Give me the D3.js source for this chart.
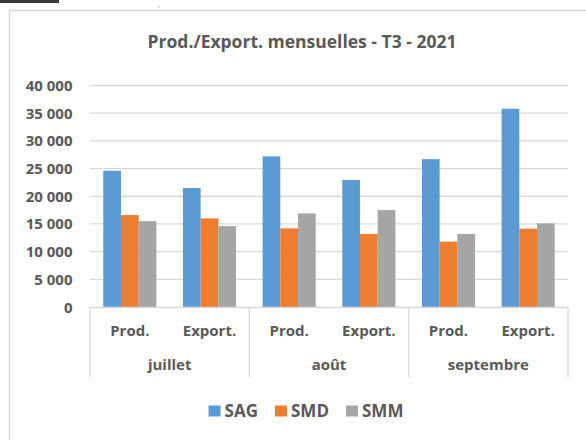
<!DOCTYPE html>
<html>
<head>
<meta charset="utf-8">
<script src="https://d3js.org/d3.v7.min.js"></script>
<style>
  body { margin: 0; background: #fff; }
  text { font-family: "Open Sans", sans-serif; font-weight: 700; fill: #595959; }
</style>
</head>
<body>
<div id="my_dataviz"></div>
<script>
// data
var months = ["juillet", "août", "septembre"];
var kinds = ["Prod.", "Export."];
var seriesNames = ["SAG", "SMD", "SMM"];
var sag = [24600, 21500, 27200, 22950, 26700, 35800];
var smd = [16600, 16000, 14200, 13200, 11800, 14150];
var smm = [15500, 14600, 16900, 17500, 13200, 15100];
var yTicks = [0, 5000, 10000, 15000, 20000, 25000, 30000, 35000, 40000];

var colors = ["#5B9BD5", "#ED7D31", "#A5A5A5"];
var gridColor = "#D9D9D9";

var width = 586, height = 440;
var plot = {left: 90, right: 568, top: 85.5, bottom: 307};

var svg = d3.select("#my_dataviz")
  .append("svg")
    .attr("width", width)
    .attr("height", height);

// bits of the screenshot crop at the top left
svg.append("rect")
    .attr("x", 0).attr("y", 0)
    .attr("width", 59).attr("height", 3)
    .attr("fill", "#3a3a3a");
svg.append("text")
    .attr("x", 158).attr("y", 7)
    .style("font-size", "7px")
    .style("font-weight", 400)
    .style("fill", "#888")
    .text(",");

// chart frame
svg.append("rect")
    .attr("x", 9.5).attr("y", 10.5)
    .attr("width", 600).attr("height", 460)
    .attr("fill", "#fff")
    .attr("stroke", gridColor)
    .attr("stroke-width", 1.5);

// title
svg.append("text")
    .attr("x", 302)
    .attr("y", 47.5)
    .attr("text-anchor", "middle")
    .style("font-size", "17.5px")
    .text("Prod./Export. mensuelles - T3 - 2021");

// rows: one per month/kind
var rows = [];
months.forEach(function(m, i) {
  kinds.forEach(function(k, j) {
    var idx = i * kinds.length + j;
    rows.push({month: m, kind: k, values: [sag[idx], smd[idx], smm[idx]]});
  });
});

// Scales
var x0 = d3.scaleBand()
    .domain(months)
    .range([plot.left, plot.right]);
var x1 = d3.scaleBand()
    .domain(kinds)
    .range([0, x0.bandwidth()]);
var x2 = d3.scaleBand()
    .domain(seriesNames)
    .range([0, x1.bandwidth()])
    .paddingInner(0)
    .paddingOuter(0.75);   // excel gap width 150%
var y = d3.scaleLinear()
    .domain([0, 40000])
    .range([plot.bottom, plot.top]);

// gridlines
svg.append("g")
  .selectAll("line")
  .data(yTicks.slice(1))
  .enter()
  .append("line")
    .attr("x1", plot.left)
    .attr("x2", plot.right)
    .attr("y1", function(d) { return y(d); })
    .attr("y2", function(d) { return y(d); })
    .attr("stroke", gridColor)
    .attr("stroke-width", 1.3);

// y labels, "40 000" style
var fmt = function(d) { return d3.format(",")(d).replace(/,/g, " "); };
svg.append("g")
  .selectAll("text")
  .data(yTicks)
  .enter()
  .append("text")
    .attr("x", 72.5)
    .attr("y", function(d) { return y(d); })
    .attr("dy", "0.37em")
    .attr("text-anchor", "end")
    .style("font-size", "15px")
    .text(fmt);

// bars
var groups = svg.append("g")
  .selectAll("g")
  .data(rows)
  .enter()
  .append("g")
    .attr("transform", function(d) { return "translate(" + (x0(d.month) + x1(d.kind)) + ",0)"; });

groups.selectAll("rect")
  .data(function(d) { return d.values.map(function(v, i) { return {name: seriesNames[i], value: v, i: i}; }); })
  .enter()
  .append("rect")
    .attr("x", function(d) { return x2(d.name); })
    .attr("width", x2.bandwidth())
    .attr("y", function(d) { return y(d.value); })
    .attr("height", function(d) { return y(0) - y(d.value); })
    .attr("fill", function(d) { return colors[d.i]; });

// category axis (two levels)
var axisBottom = 377;
svg.append("line")
    .attr("x1", plot.left).attr("x2", plot.right)
    .attr("y1", y(0) + 0.5).attr("y2", y(0) + 0.5)
    .attr("stroke", gridColor)
    .attr("stroke-width", 1.3);

var bounds = months.map(function(m) { return x0(m); }).concat([plot.right]);
svg.append("g")
  .selectAll("line")
  .data(bounds)
  .enter()
  .append("line")
    .attr("x1", function(d) { return d; })
    .attr("x2", function(d) { return d; })
    .attr("y1", y(0))
    .attr("y2", axisBottom)
    .attr("stroke", gridColor)
    .attr("stroke-width", 1.3);

svg.append("g")
  .selectAll("text")
  .data(rows)
  .enter()
  .append("text")
    .attr("x", function(d) { return x0(d.month) + x1(d.kind) + x1.bandwidth() / 2; })
    .attr("y", 335.5)
    .attr("text-anchor", "middle")
    .style("font-size", "15px")
    .text(function(d) { return d.kind; });

svg.append("g")
  .selectAll("text")
  .data(months)
  .enter()
  .append("text")
    .attr("x", function(d) { return x0(d) + x0.bandwidth() / 2; })
    .attr("y", 370)
    .attr("text-anchor", "middle")
    .style("font-size", "15px")
    .text(function(d) { return d; });

// legend
var legend = svg.append("g");
var lx = 0;
seriesNames.forEach(function(name, i) {
  var item = legend.append("g").attr("transform", "translate(" + lx + ",0)");
  item.append("rect")
      .attr("x", 0).attr("y", -11)
      .attr("width", 12).attr("height", 11)
      .attr("fill", colors[i]);
  var t = item.append("text")
      .attr("x", 16)
      .attr("y", 0)
      .style("font-size", "17px")
      .text(name);
  lx += 16 + t.node().getComputedTextLength() + 17;
});
lx -= 17;
legend.attr("transform", "translate(" + (306 - lx / 2) + ",416.5)");
</script>
</body>
</html>
